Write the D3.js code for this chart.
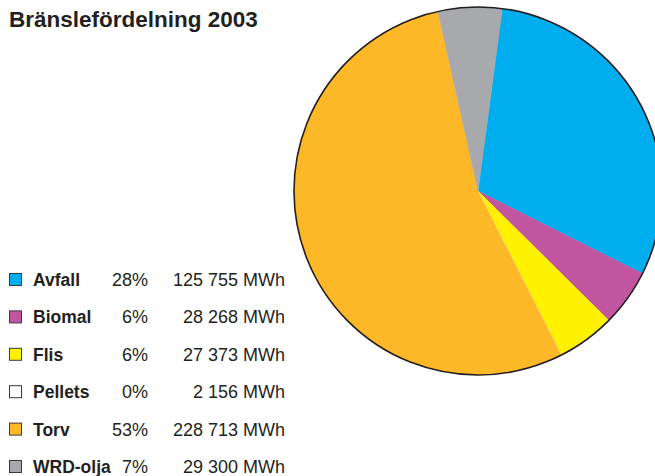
<!DOCTYPE html>
<html>
<head>
<meta charset="utf-8">
<script src="https://cdn.jsdelivr.net/npm/d3@7"></script>
<style>
  body { margin: 0; background: #fff; }
  text { font-family: "Liberation Sans", Arial, sans-serif; fill: #231f20; }
</style>
</head>
<body>
<div class="chart"></div>
<script>
const fuels = ["Avfall", "Biomal", "Flis", "Pellets", "Torv", "WRD-olja"];
const percentLabels = ["28%", "6%", "6%", "0%", "53%", "7%"];
const mwh = [125755, 28268, 27373, 2156, 228713, 29300];
// slice sizes as drawn in the original graphic (percent of the circle)
const sliceShare = [30.3, 5.0, 5.1, 0, 54.0, 5.6];
const colors = ["#00aeef", "#c155a0", "#fff200", "#ffffff", "#fdb827", "#a7a9ac"];

const width = 655;
const height = 476;

const svg = d3.select(".chart").append("svg")
  .attr("width", width)
  .attr("height", height);

svg.append("text")
  .attr("x", 9)
  .attr("y", 27)
  .style("font-size", "22.5px")
  .style("font-weight", "bold")
  .text("Bränslefördelning 2003");

// pie
const cx = 478, cy = 191, r = 184;
const startAngle = 7.6 * Math.PI / 180;

const pie = d3.pie()
  .sort(null)
  .value((d) => d)
  .startAngle(startAngle)
  .endAngle(startAngle + 2 * Math.PI);

const arc = d3.arc().innerRadius(0).outerRadius(r);

const g = svg.append("g")
  .attr("transform", `translate(${cx}, ${cy})`);

g.selectAll(".slice")
  .data(pie(sliceShare)).enter()
  .append("path")
    .attr("class", "slice")
    .attr("d", arc)
    .style("fill", (d, i) => colors[i])
    .style("stroke", (d, i) => colors[i])
    .style("stroke-width", 0.5);

g.append("circle")
  .attr("r", r)
  .style("fill", "none")
  .style("stroke", "#231f20")
  .style("stroke-width", 1.6);

// legend
const fmt = (v) => d3.format(",")(v).replace(/,/g, " ") + " MWh";

const scaleRow = d3.scalePoint().domain(fuels).range([286, 473]);

const rows = svg.append("g")
  .attr("class", "legend")
  .selectAll(".row")
  .data(fuels).enter()
  .append("g")
    .attr("transform", (d) => `translate(0, ${scaleRow(d)})`);

rows.append("rect")
  .attr("x", 9.5)
  .attr("y", -12.5)
  .attr("width", 12)
  .attr("height", 12)
  .style("fill", (d, i) => colors[i])
  .style("stroke", "#3a3a3a")
  .style("stroke-width", 1);

rows.append("text")
  .attr("x", 33)
  .style("font-size", "17.5px")
  .style("font-weight", "bold")
  .text((d) => d);

rows.append("text")
  .attr("x", 148)
  .attr("text-anchor", "end")
  .style("font-size", "18px")
  .text((d, i) => percentLabels[i]);

rows.append("text")
  .attr("x", 285)
  .attr("text-anchor", "end")
  .style("font-size", "18px")
  .text((d, i) => fmt(mwh[i]));
</script>
</body>
</html>
